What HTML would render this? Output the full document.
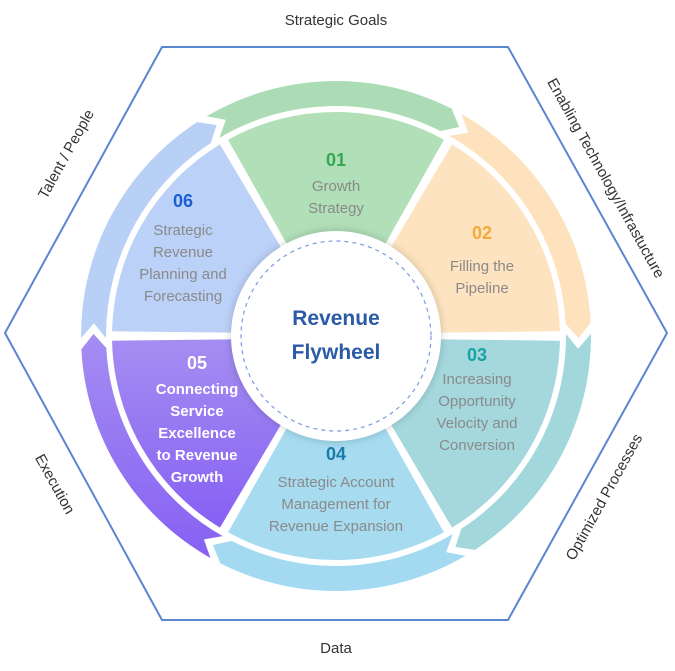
<!DOCTYPE html>
<html><head><meta charset="utf-8"><style>
html,body{margin:0;padding:0;background:#fff;}
svg{display:block;font-family:"Liberation Sans",Arial,sans-serif;}
</style></head><body>
<svg id="s" width="675" height="671" viewBox="0 0 675 671" xmlns="http://www.w3.org/2000/svg">
<defs>
<linearGradient id="pg" x1="0" y1="0" x2="0" y2="1"><stop offset="0" stop-color="#a48ef2"/><stop offset="1" stop-color="#8760f3"/></linearGradient>
<filter id="sh" x="-30%" y="-30%" width="160%" height="160%"><feGaussianBlur stdDeviation="4"/></filter>
</defs>
<polygon points="162,47 508,47 667,333 508,620 162,620 5,333" fill="none" stroke="#5a86d0" stroke-width="2" stroke-linejoin="round"/>
<g id="wheel"></g>
<circle cx="336" cy="336" r="106" fill="#000" opacity="0.15" filter="url(#sh)"/>
<circle cx="336" cy="336" r="105" fill="#fff"/>
<circle cx="336" cy="336" r="95" fill="none" stroke="#7a9be0" stroke-width="1.2" stroke-dasharray="4,4"/>
<g font-size="15" fill="#333" text-anchor="middle">
<text x="336" y="25">Strategic Goals</text>
<text x="336" y="653">Data</text>
<text transform="translate(606,178) rotate(61)" y="5">Enabling Technology/Infrastucture</text>
<text transform="translate(604,497) rotate(-61)" y="5">Optimized Processes</text>
<text transform="translate(66,154) rotate(-61)" y="5">Talent / People</text>
<text transform="translate(55,484) rotate(61)" y="5">Execution</text>
</g>
<g text-anchor="middle" font-size="15" fill="#8a8a8a">
<text x="336" y="166" font-size="18" font-weight="bold" fill="#34a853">01</text>
<text x="336" y="191">Growth</text><text x="336" y="213">Strategy</text>
<text x="183" y="207" font-size="18" font-weight="bold" fill="#1a5fd6">06</text>
<text x="183" y="235">Strategic</text><text x="183" y="257">Revenue</text><text x="183" y="279">Planning and</text><text x="183" y="301">Forecasting</text>
<text x="482" y="239" font-size="18" font-weight="bold" fill="#f6a93b">02</text>
<text x="482" y="271">Filling the</text><text x="482" y="293">Pipeline</text>
<text x="477" y="361" font-size="18" font-weight="bold" fill="#17a2a6">03</text>
<text x="477" y="384">Increasing</text><text x="477" y="406">Opportunity</text><text x="477" y="428">Velocity and</text><text x="477" y="450">Conversion</text>
<text x="336" y="460" font-size="18" font-weight="bold" fill="#1a7ca8">04</text>
<text x="336" y="487">Strategic Account</text><text x="336" y="509">Management for</text><text x="336" y="531">Revenue Expansion</text>
<g fill="#fff" font-weight="bold">
<text x="197" y="369" font-size="18">05</text>
<text x="197" y="394">Connecting</text><text x="197" y="416">Service</text><text x="197" y="438">Excellence</text><text x="197" y="460">to Revenue</text><text x="197" y="482">Growth</text>
</g>
<g fill="#2b5aa6" font-weight="bold" font-size="21">
<text x="336" y="325">Revenue</text><text x="336" y="359">Flywheel</text>
</g>
</g>
</svg>
<script>
(function(){
var cx=336,cy=336,NS="http://www.w3.org/2000/svg",g=document.getElementById('wheel');
function P(r,a){a=a*Math.PI/180;return [cx+r*Math.cos(a),cy-r*Math.sin(a)];}
function add(d,f){var p=document.createElementNS(NS,'path');p.setAttribute('d',d);p.setAttribute('fill',f);g.appendChild(p);}
var segs=[[60,120,'#b0dfb8','#acdcb5'],[0,60,'#fde3bf','#fde2bd'],[-60,0,'#a4d8dd','#a2d8dc'],[-120,-60,'#a6dbf0','#a3daf1'],[180,240,'url(#pg)','url(#pg)'],[120,180,'#bbd1f7','#b8cff6']];
var R1=224,B0=230,B1=255;
segs.forEach(function(s){
  var a0=s[0],a1=s[1];
  var am=(a0+a1)/2;
  var o=P(4.5,am);
  var ox=o[0]-cx,oy=o[1]-cy;
  var p0=P(R1,a0+1.2),p1=P(R1,a1-1.2);
  var d='M'+(cx+ox)+','+(cy+oy)+' L'+p0[0]+','+p0[1]+' A'+R1+','+R1+' 0 0 0 '+p1[0]+','+p1[1]+' Z';
  add(d,s[2]);
  var st=a1+0.5,en=a0+3,tip=3.5;
  var rm=(B0+B1)/2;
  var q1=P(B1,st),q2=P(B1,en),q3=P(rm,en-tip),q4=P(B0,en),q5=P(B0,st),q6=P(rm,st-tip);
  var d2='M'+q1+' A'+B1+','+B1+' 0 0 1 '+q2+' L'+q3+' L'+q4+' A'+B0+','+B0+' 0 0 0 '+q5+' L'+q6+' Z';
  add(d2,s[3]);
});
})();
</script>
</body></html>
